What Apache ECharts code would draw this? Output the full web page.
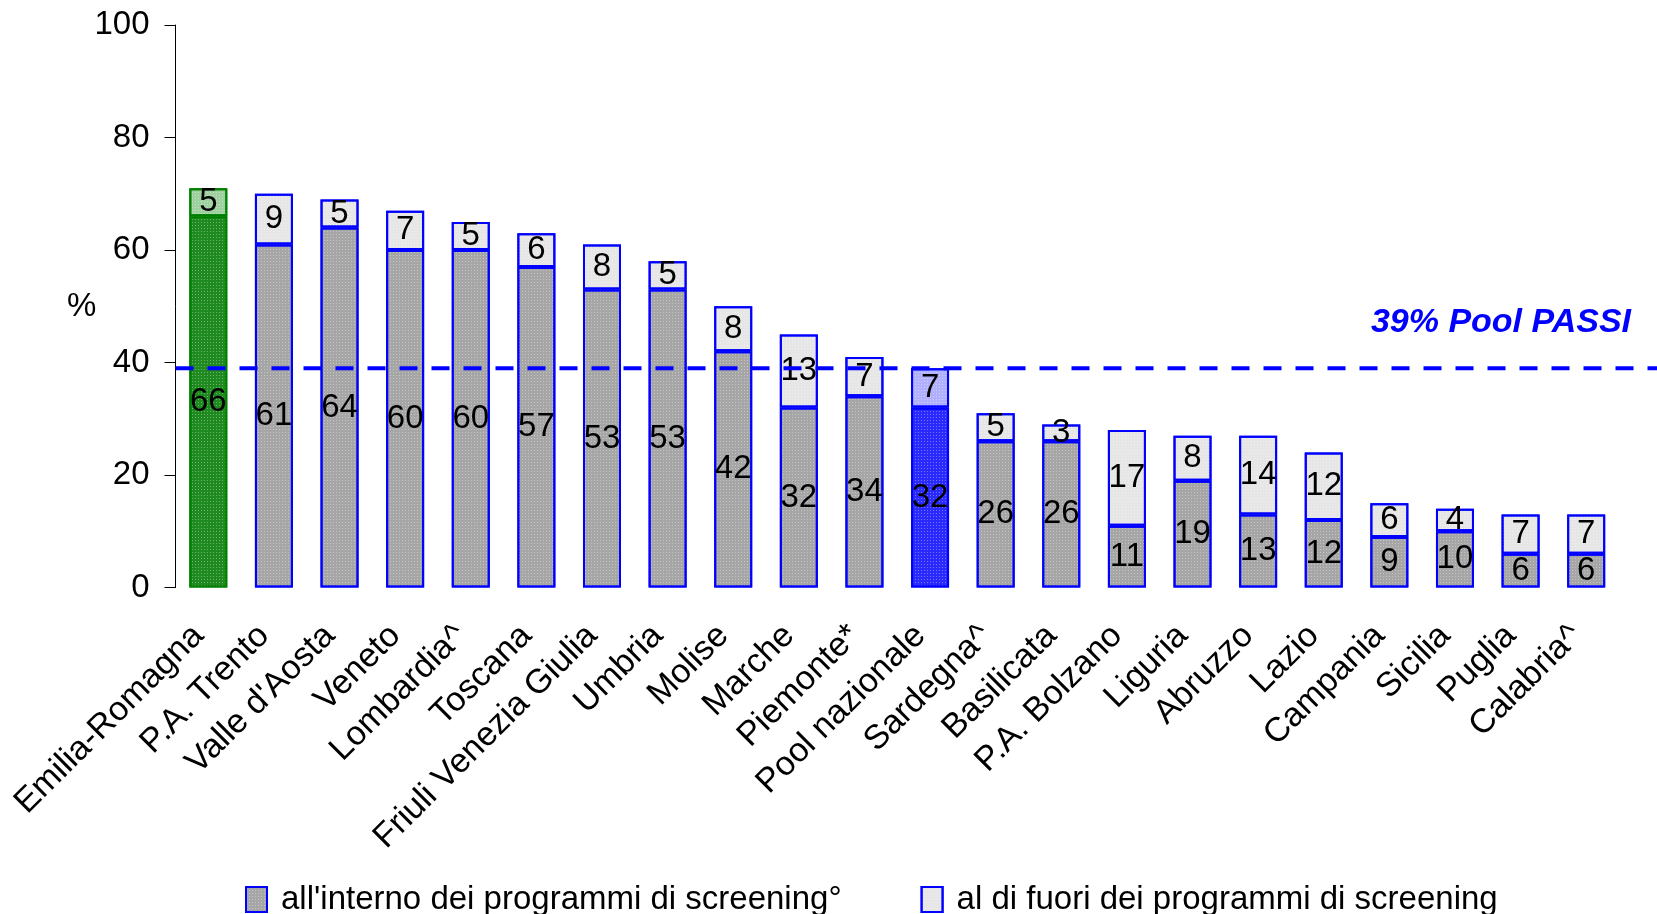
<!DOCTYPE html>
<html>
<head>
<meta charset="utf-8">
<script src="https://cdn.jsdelivr.net/npm/echarts@6/dist/echarts.min.js"></script>
<style>html,body{margin:0;padding:0;background:#fff}#c{width:1657px;height:914px}</style>
</head>
<body>
<div id="c"></div>
<script>
const categories = ["Emilia-Romagna","P.A. Trento","Valle d'Aosta","Veneto","Lombardia^","Toscana","Friuli Venezia Giulia","Umbria","Molise","Marche","Piemonte*","Pool nazionale","Sardegna^","Basilicata","P.A. Bolzano","Liguria","Abruzzo","Lazio","Campania","Sicilia","Puglia","Calabria^"];
const inside = [66,61,64,60,60,57,53,53,42,32,34,32,26,26,11,19,13,12,9,10,6,6];
const outside = [5,9,5,7,5,6,8,5,8,13,7,7,5,3,17,8,14,12,6,4,7,7];
const poolValue = 39;
const poolLabel = "39% Pool PASSI";
const seriesNames = ["all'interno dei programmi di screening°","al di fuori dei programmi di screening"];
const yTicks = {min:0, max:100, interval:20};

const FONT = "'Liberation Sans', Arial, sans-serif";
const BLUE = '#0000ff';
const special = {
  "Emilia-Romagna": {inFill:'#1f8a1f', outFill:'#9fd09f', border:'#008000'},
  "Pool nazionale": {inFill:'#2a2aff', outFill:'#b0b0ff', border:BLUE}
};
const decal = {symbol:'rect', symbolSize:1, dashArrayX:[1,2], dashArrayY:[1,2], color:'rgba(255,255,255,0.35)'};

function mk(vals, key){
  return vals.map((v,i)=>{
    const s = special[categories[i]];
    if(!s) return v;
    return {value:v, itemStyle:{color: key==='in'?s.inFill:s.outFill, borderColor:s.border}};
  });
}

const chart = echarts.init(document.getElementById('c'));
const labelStyle = {show:true, position:'inside', color:'#000', fontSize:33, fontFamily:FONT};
chart.setOption({
  animation:false,
  textStyle:{fontFamily:FONT},
  grid:[
    {left:175.5, right:38, top:25, bottom:326.5, containLabel:false},
    {left:175.5, right:0, top:25, bottom:326.5, containLabel:false}
  ],
  legend:{
    data:seriesNames, left:240, top:878, itemWidth:21, itemHeight:25, itemGap:79, icon:'rect',
    textStyle:{fontSize:33, color:'#000', fontFamily:FONT, padding:[0,0,0,9]}
  },
  xAxis:[
    {type:'category', data:categories, gridIndex:0,
     axisLine:{show:false}, axisTick:{show:false},
     axisLabel:{interval:0, rotate:45, fontSize:34, color:'#000', margin:33, padding:[0,14,0,0], fontFamily:FONT}},
    {type:'value', gridIndex:1, min:0, max:1, show:false}
  ],
  yAxis:[
    {type:'value', gridIndex:0, min:yTicks.min, max:yTicks.max, interval:yTicks.interval,
     axisLine:{show:true, lineStyle:{color:'#000', width:1}},
     axisTick:{show:true, length:11, lineStyle:{color:'#000'}},
     splitLine:{show:false},
     axisLabel:{fontSize:33, color:'#000', margin:26, fontFamily:FONT}},
    {type:'value', gridIndex:1, min:yTicks.min, max:yTicks.max, show:false}
  ],
  graphic:[
    {type:'text', left:67, top:290, style:{text:'%', font:'33px '+FONT, fill:'#000'}},
    {type:'text', right:26, top:306, style:{text:poolLabel, font:'italic bold 34px '+FONT, fill:BLUE}}
  ],
  series:[
    {name:seriesNames[0], type:'bar', stack:'a', xAxisIndex:0, yAxisIndex:0, barWidth:38,
     data:mk(inside,'in'),
     itemStyle:{color:'#a6a6a6', borderColor:BLUE, borderWidth:2, decal:decal},
     label:labelStyle},
    {name:seriesNames[1], type:'bar', stack:'a', xAxisIndex:0, yAxisIndex:0, barWidth:38,
     data:mk(outside,'out'),
     itemStyle:{color:'#e6e6e6', borderColor:BLUE, borderWidth:2, decal:decal},
     label:labelStyle},
    {type:'line', xAxisIndex:1, yAxisIndex:1, symbol:'none', silent:true, z:5,
     data:[[0,poolValue],[1,poolValue]],
     lineStyle:{color:BLUE, width:4, type:[18,14]}}
  ]
});
</script>
</body>
</html>
